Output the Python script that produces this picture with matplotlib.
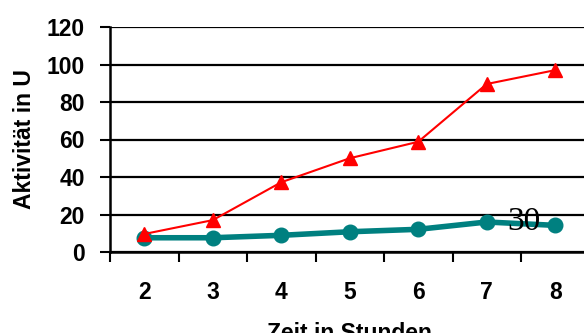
import matplotlib
matplotlib.use("Agg")
import matplotlib.pyplot as plt
import numpy as np

# Measured activity over time
hours = ["2", "3", "4", "5", "6", "7", "8"]
activity_red = [9.6, 17, 37.2, 50, 58.8, 89.6, 97]
activity_teal = [7.6, 7.6, 8.9, 10.8, 12.1, 16, 14.2]
y_ticks = [0, 20, 40, 60, 80, 100, 120]
note_text = "30"

plt.rcParams["font.family"] = ["Liberation Sans", "DejaVu Sans"]

fig = plt.figure(figsize=(5.84, 3.33), dpi=100)
ax = fig.add_axes([110 / 584, 81 / 333, 479.5 / 584, 225 / 333])

x = np.arange(len(hours))

ax.plot(x, activity_teal, color="#008080", lw=4, marker="o", ms=10.5,
        solid_capstyle="round", zorder=3, clip_on=False)
ax.plot(x, activity_red, color="#ff0000", lw=1.5, marker="^", ms=10.5,
        zorder=4, clip_on=False)

ax.set_xlim(-0.5, len(hours) - 0.5)
ax.set_ylim(0, 120)

# Category labels centred, tick marks on the category boundaries
ax.set_xticks(x)
ax.set_xticklabels(hours, fontsize=16.5, fontweight="bold")
ax.set_xticks(np.arange(len(hours) + 1) - 0.5, minor=True)
ax.tick_params(axis="x", which="major", length=0, pad=21)
ax.tick_params(axis="x", which="minor", length=7, width=1.5, color="black")

ax.set_yticks(y_ticks)
ax.set_yticklabels([str(v) for v in y_ticks], fontsize=16.5, fontweight="bold")
ax.tick_params(axis="y", length=7, width=1.5, pad=11)

ax.yaxis.grid(True, color="black", lw=1.6)
ax.set_axisbelow(True)

for side in ("top", "right"):
    ax.spines[side].set_visible(False)
for side in ("left", "bottom"):
    ax.spines[side].set_linewidth(1.8)

ax.set_ylabel("Aktivität in U", fontsize=16.5, fontweight="bold", labelpad=8)
ax.set_xlabel("Zeit in Stunden", fontsize=16.5, fontweight="bold", labelpad=13)

ax.text(5.54, 16, note_text, fontsize=24, family="Liberation Serif",
        ha="center", va="center", color="black", zorder=5)

fig.savefig("out.png", dpi=100)
